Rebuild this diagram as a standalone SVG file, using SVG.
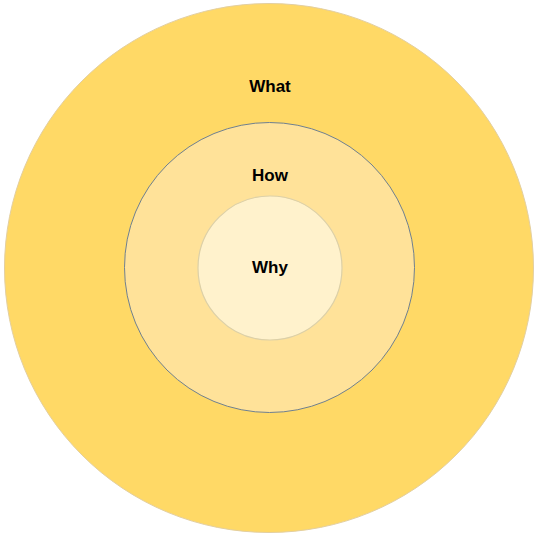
<svg xmlns="http://www.w3.org/2000/svg" width="540" height="540" viewBox="0 0 540 540">
<style>
.lbl{font-family:"Liberation Sans",Arial,sans-serif;font-weight:bold;font-size:17px;fill:#000;text-anchor:middle}
</style>
<rect width="540" height="540" fill="#fff"/>
<g id="what">
<circle cx="269" cy="268" r="264.5" fill="#FFD966" stroke="#E3CFA0" stroke-width="1"/>
<text class="lbl" x="270" y="92">What</text>
</g>
<g id="how">
<circle cx="269.5" cy="267.5" r="145" fill="#FFE299" stroke="#6F8090" stroke-width="1"/>
<text class="lbl" x="270" y="181">How</text>
</g>
<g id="why">
<circle cx="270" cy="268" r="72" fill="#FFF2CC" stroke="#DCD0A8" stroke-width="1.2"/>
<text class="lbl" x="270" y="273">Why</text>
</g>
<g id="connectors"/>
</svg>
